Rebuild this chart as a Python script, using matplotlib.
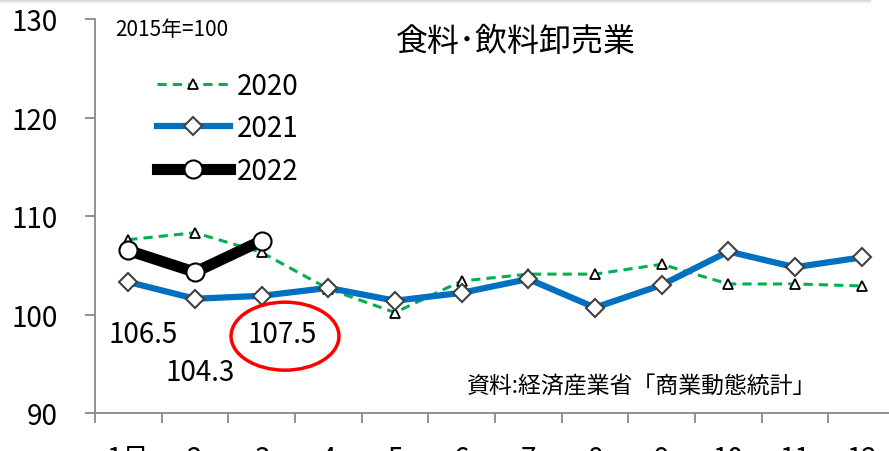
import matplotlib
matplotlib.use("Agg")
import matplotlib.pyplot as plt
from matplotlib.patches import Ellipse
from matplotlib.lines import Line2D

plt.rcParams['font.family'] = ['Noto Sans CJK JP', 'DejaVu Sans']

months = ["1月", "2", "3", "4", "5", "6", "7", "8", "9", "10", "11", "12"]
v2020 = [107.6, 108.3, 106.3, 102.6, 100.2, 103.4, 104.1, 104.1, 105.1, 103.1, 103.1, 102.9]
v2021 = [103.3, 101.6, 101.9, 102.7, 101.4, 102.2, 103.6, 100.7, 103.0, 106.4, 104.8, 105.8]
v2022 = [106.5, 104.3, 107.5]
labels2022 = ["106.5", "104.3", "107.5"]

fig = plt.figure(figsize=(8.89, 4.52), dpi=100)
ax = fig.add_axes([95/889, 1-414/452, 800/889, 394/452])

# faint shadow band at the top edge
for i, c in enumerate(["#d8d8d8", "#e6e6e6", "#f1f1f1", "#f8f8f8"]):
    yy = 1 - (i + 0.5) / 452
    fig.add_artist(Line2D([0, 870/889], [yy, yy], color=c, lw=0.8, transform=fig.transFigure))

x = list(range(12))
ax.plot(x, v2020, color="#00B050", lw=2.2, ls=(0, (3, 2)), marker="^", ms=6.5,
        mfc="white", mec="black", mew=1.3, label="2020", zorder=3)
ax.plot(x, v2021, color="#0070C0", lw=4.5, marker="D", ms=9,
        mfc="white", mec="#404040", mew=1.5, label="2021", zorder=4)
ax.plot(x[:3], v2022, color="black", lw=8, marker="o", ms=13,
        mfc="white", mec="black", mew=1.5, label="2022", zorder=5)

ax.set_xlim(-0.5, 11.5)
ax.set_ylim(90, 130)
ax.set_yticks([90, 100, 110, 120, 130])
ax.set_xticks(x)
ax.set_xticklabels(months)
ax.set_xticks([i - 0.5 for i in range(13)], minor=True)
ax.tick_params(axis="x", which="major", length=0, pad=22, labelsize=20)
ax.tick_params(axis="x", which="minor", length=7, color="#888888", width=1.3, direction="out")
ax.tick_params(axis="y", length=7, color="#888888", width=1.3, labelsize=20, pad=20)
for s in ["top", "right"]:
    ax.spines[s].set_visible(False)
for s in ["left", "bottom"]:
    ax.spines[s].set_color("#888888")
    ax.spines[s].set_linewidth(1.3)

leg = ax.legend(loc="upper left", bbox_to_anchor=(0.064, 0.897), frameon=False,
                fontsize=20, handlelength=2.6, labelspacing=0.45, handletextpad=0.25,
                borderaxespad=0)

fig.text(115/889, 1-30/452, "2015年=100", fontsize=15, va="center", ha="left")
fig.text(516/889, 1-42/452, "食料･飲料卸売業", fontsize=23, ha="center", va="center")
fig.text(467/889, 1-387/452, "資料:経済産業省「商業動態統計」", fontsize=16.5, ha="left", va="center")

label_pos = [(0.22, 97.97), (1.07, 94.2), (2.3, 97.97)]
for (lx, ly), t in zip(label_pos, labels2022):
    ax.text(lx, ly, t, fontsize=20, ha="center", va="center")

ax.add_patch(Ellipse((2.35, 97.8), width=108/66.7, height=68/9.85, fill=False,
                     ec="#FF0000", lw=2.5, zorder=6, clip_on=False))

fig.savefig("out.png", dpi=100)
